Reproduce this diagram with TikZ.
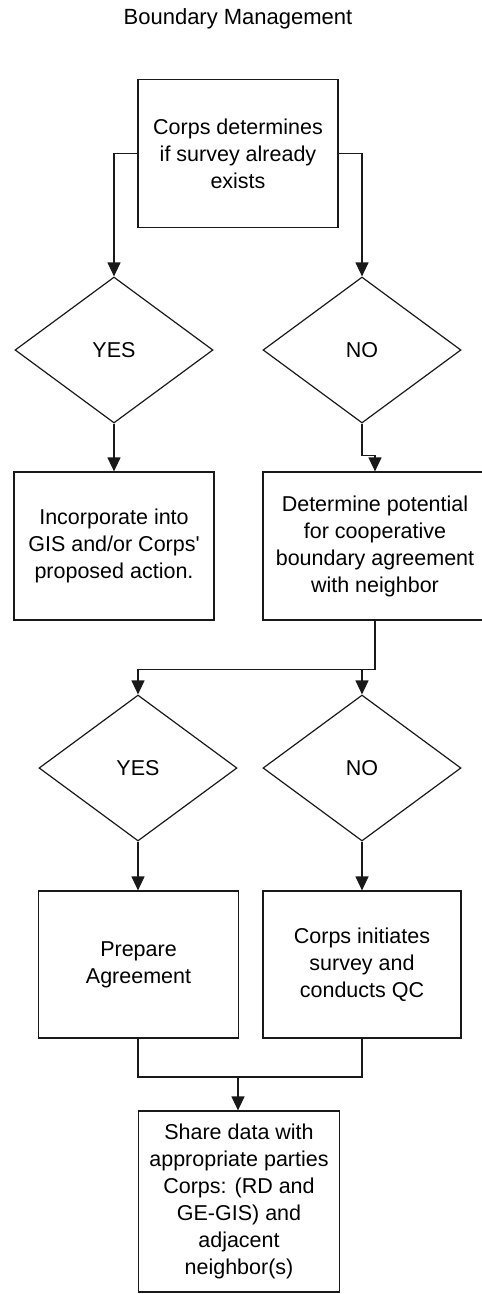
\documentclass[tikz,border=0pt]{standalone}
\usepackage{fontspec}
\setmainfont{Liberation Sans}
\usetikzlibrary{arrows.meta,shapes.geometric}

\tikzset{
	stepbox/.style={draw=black!90, line width=1.2pt, minimum width=200pt, minimum height=148pt, inner sep=0pt, align=center, font=\fontsize{21.5}{27}\selectfont},
	choice/.style={diamond, draw=black!90, line width=1.2pt, minimum width=198pt, minimum height=146pt, inner sep=0pt, font=\fontsize{21.5}{27}\selectfont},
	flow/.style={draw=black!90, line width=1.2pt, -{Triangle[length=14pt,width=13pt]}},
	link/.style={draw=black!90, line width=1.2pt}
}

\begin{document}
\begin{tikzpicture}[x=1pt, y=-1pt]
			%%%%% START %%%%%
			\useasboundingbox (0, 0) rectangle (482, 1294);
			
			\node[font=\fontsize{22}{27}\selectfont] (title) at (238, 19) {Boundary Management};
			
			\node[stepbox] (exists) at (238, 153.5) {Corps determines\\if survey already\\exists};
			
			\node[choice] (yesA) at (114, 350) {YES};
			\node[choice] (noA) at (362, 350) {NO};
			
			\node[stepbox] (incorporate) at (114, 546) {Incorporate into\\GIS and/or Corps\textquotesingle\\proposed action.};
			\node[stepbox, minimum width=224pt] (potential) at (375, 546) {Determine potential\\for cooperative\\boundary agreement\\with neighbor};
			
			\node[choice] (yesB) at (138, 768) {YES};
			\node[choice] (noB) at (362, 768) {NO};
			
			\node[stepbox, minimum height=147pt] (prepare) at (138.5, 964.5) {Prepare\\Agreement};
			\node[stepbox, minimum width=198pt, minimum height=147pt] (survey) at (362, 964.5) {Corps initiates\\survey and\\conducts QC};
			
			\node[stepbox, minimum width=201pt, minimum height=181pt] (share) at (239, 1201.5) {Share data with\\appropriate parties\\Corps: (RD and\\GE-GIS) and\\adjacent\\neighbor(s)};
			
			\path (potential.south) ++(0, 49) coordinate (split);
			\coordinate (merge) at (238, 1077);
			
			\draw[flow] (exists.west) -| (yesA.north);
			\draw[flow] (exists.east) -| (noA.north);
			\draw[flow] (yesA.south) -- (incorporate.north);
			\draw[flow] (noA.south) -- ++(0, 32) -| (potential.north);
			
			\draw[flow] (potential.south) -- (split) -| (yesB.north);
			\draw[flow] (split) -| (noB.north);
			\draw[flow] (yesB.south) -- (yesB.south |- prepare.north);
			\draw[flow] (noB.south) -- (survey.north);
			
			\draw[link] (prepare.south -| yesB.south) |- (merge) -| (survey.south);
			\draw[flow] (merge) -- (share.north -| merge);
			
			%%%%% END %%%%%
\end{tikzpicture}
\end{document}
